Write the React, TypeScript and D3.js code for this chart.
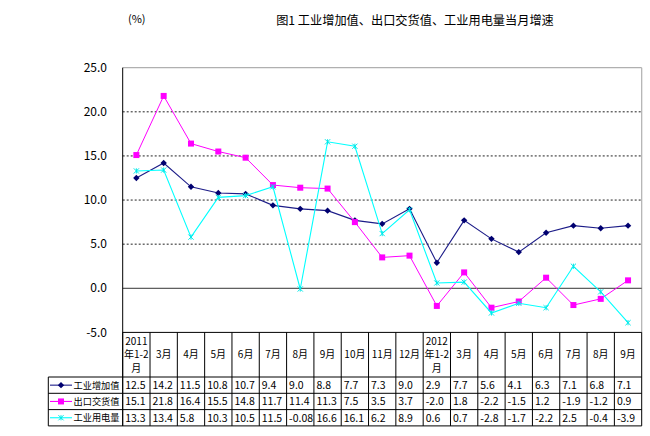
import React from "react";
import * as d3 from "d3";

const categories: string[][] = [
  ["2011", "年1-2", "月"], ["3月"], ["4月"], ["5月"], ["6月"], ["7月"], ["8月"], ["9月"],
  ["10月"], ["11月"], ["12月"], ["2012", "年1-2", "月"], ["3月"], ["4月"], ["5月"], ["6月"],
  ["7月"], ["8月"], ["9月"],
];

const industrialValueAdded: number[] = [12.5, 14.2, 11.5, 10.8, 10.7, 9.4, 9.0, 8.8, 7.7, 7.3, 9.0, 2.9, 7.7, 5.6, 4.1, 6.3, 7.1, 6.8, 7.1];
const exportDeliveryValue: number[] = [15.1, 21.8, 16.4, 15.5, 14.8, 11.7, 11.4, 11.3, 7.5, 3.5, 3.7, -2.0, 1.8, -2.2, -1.5, 1.2, -1.9, -1.2, 0.9];
const industrialPower: number[] = [13.3, 13.4, 5.8, 10.3, 10.5, 11.5, -0.08, 16.6, 16.1, 6.2, 8.9, 0.6, 0.7, -2.8, -1.7, -2.2, 2.5, -0.4, -3.9];

const seriesNames: string[] = ["工业增加值", "出口交货值", "工业用电量"];
const yTicks: number[] = [-5, 0, 5, 10, 15, 20, 25];
const tableLabels: string[][] = [
  ["12.5", "14.2", "11.5", "10.8", "10.7", "9.4", "9.0", "8.8", "7.7", "7.3", "9.0", "2.9", "7.7", "5.6", "4.1", "6.3", "7.1", "6.8", "7.1"],
  ["15.1", "21.8", "16.4", "15.5", "14.8", "11.7", "11.4", "11.3", "7.5", "3.5", "3.7", "-2.0", "1.8", "-2.2", "-1.5", "1.2", "-1.9", "-1.2", "0.9"],
  ["13.3", "13.4", "5.8", "10.3", "10.5", "11.5", "-0.08", "16.6", "16.1", "6.2", "8.9", "0.6", "0.7", "-2.8", "-1.7", "-2.2", "2.5", "-0.4", "-3.9"],
];

const W = 650;
const H = 436;
const plotLeft = 122.7;
const plotRight = 641.7;
const plotTop = 67.7;
const plotBottom = 332.4;
const headerBottom = 377;
const rowH = 16.3;
const tableLeft = 48.3;
const FONT = "'Noto Sans CJK SC', 'Noto Sans', sans-serif";

const seriesColors = ["#1c1c88", "#ff00ff", "#00ffff"];
const markerColors = ["#000070", "#ff00ff", "#00e8e8"];

function Marker({ kind, x, y }: { kind: number; x: number; y: number }) {
  if (kind === 0) {
    const s = 3.2;
    return <path d={`M${x},${y - s}L${x + s},${y}L${x},${y + s}L${x - s},${y}Z`} fill={markerColors[0]} />;
  }
  if (kind === 1) {
    const s = 3;
    return <rect x={x - s} y={y - s} width={2 * s} height={2 * s} fill={markerColors[1]} />;
  }
  const s = 2.6;
  return (
    <path
      d={`M${x - s},${y - s}L${x + s},${y + s}M${x - s},${y + s}L${x + s},${y - s}M${x},${y - s}L${x},${y + s}`}
      stroke={markerColors[2]}
      strokeWidth={1}
      fill="none"
    />
  );
}

export default function App() {
  const x = d3.scaleBand<number>().domain(d3.range(categories.length)).range([plotLeft, plotRight]).padding(0);
  const y = d3.scaleLinear().domain([-5, 25]).range([plotBottom, plotTop]);
  const cx = (i: number) => (x(i) as number) + x.bandwidth() / 2;
  const allSeries = [industrialValueAdded, exportDeliveryValue, industrialPower];
  const line = d3
    .line<number>()
    .x((_, i) => cx(i))
    .y((d) => y(d));

  const tableBottom = headerBottom + rowH * 3;
  const colEdges = d3.range(categories.length + 1).map((i) =>
    i < categories.length ? (x(i) as number) : plotRight
  );

  return (
    <svg width={W} height={H} style={{ position: "absolute", left: 0, top: 0, background: "#fff" }} fontFamily={FONT}>
      <rect x={0} y={0} width={W} height={H} fill="#fff" />
      {/* title */}
      <text x={415} y={25} fontSize={12.2} textAnchor="middle" fill="#000">
        图1 工业增加值、出口交货值、工业用电量当月增速
      </text>
      <text x={128} y={23} fontSize={11} fill="#000">
        (%)
      </text>

      {/* plot frame */}
      <line x1={plotLeft} x2={plotRight} y1={plotTop} y2={plotTop} stroke="#b0b0b0" strokeWidth={1.2} />
      <line x1={plotRight} x2={plotRight} y1={plotTop} y2={plotBottom} stroke="#b0b0b0" strokeWidth={1.2} />

      {/* gridlines */}
      {yTicks
        .filter((t) => t > 0 && t < 25)
        .map((t) => (
          <line key={t} x1={plotLeft} x2={plotRight} y1={y(t)} y2={y(t)} stroke="#222" strokeWidth={1} strokeDasharray="2,2" />
        ))}
      <line x1={plotLeft} x2={plotRight} y1={y(0)} y2={y(0)} stroke="#333" strokeWidth={1} />
      <line x1={plotLeft} x2={plotLeft} y1={plotTop} y2={tableBottom} stroke="#000" strokeWidth={1} />

      {/* y tick labels */}
      {yTicks.map((t) => (
        <text key={t} x={107} y={y(t)} dy="0.35em" fontSize={12} textAnchor="end" fill="#000">
          {t.toFixed(1)}
        </text>
      ))}

      {/* series */}
      {allSeries.map((s, k) => (
        <g key={k}>
          <path d={line(s) || ""} fill="none" stroke={seriesColors[k]} strokeWidth={k === 1 ? 1 : 1.1} />
          {s.map((v, i) => (
            <Marker key={i} kind={k} x={cx(i)} y={y(v)} />
          ))}
        </g>
      ))}

      {/* table */}
      <g stroke="#000" strokeWidth={1}>
        <line x1={plotLeft} x2={plotRight} y1={plotBottom} y2={plotBottom} />
        {[0, 1, 2, 3].map((r) => (
          <line key={r} x1={tableLeft} x2={plotRight} y1={headerBottom + r * rowH} y2={headerBottom + r * rowH} />
        ))}
        <line x1={tableLeft} x2={tableLeft} y1={headerBottom} y2={tableBottom} />
        {colEdges.map((e, i) => (
          <line key={i} x1={e} x2={e} y1={plotBottom} y2={tableBottom} />
        ))}
      </g>

      {/* header labels */}
      {categories.map((lines, i) => {
        const mid = (plotBottom + headerBottom) / 2;
        const lh = 13.5;
        const start = mid - ((lines.length - 1) * lh) / 2;
        return (
          <text key={i} fontSize={10} textAnchor="middle" fill="#000">
            {lines.map((l, j) => (
              <tspan key={j} x={cx(i)} y={start + j * lh} dy="0.35em">
                {l}
              </tspan>
            ))}
          </text>
        );
      })}

      {/* rows */}
      {tableLabels.map((row, r) => {
        const ry = headerBottom + r * rowH + rowH / 2;
        return (
          <g key={r}>
            <line x1={50} x2={72} y1={ry} y2={ry} stroke={seriesColors[r]} strokeWidth={1.1} />
            <Marker kind={r} x={61} y={ry} />
            <text x={73.5} y={ry} dy="0.36em" fontSize={9.4} textLength={46} lengthAdjust="spacingAndGlyphs" fill="#000">
              {seriesNames[r]}
            </text>
            {row.map((v, i) => (
              <text key={i} x={(x(i) as number) + 2.5} y={ry} dy="0.36em" fontSize={10.5} fill="#000">
                {v}
              </text>
            ))}
          </g>
        );
      })}
    </svg>
  );
}
